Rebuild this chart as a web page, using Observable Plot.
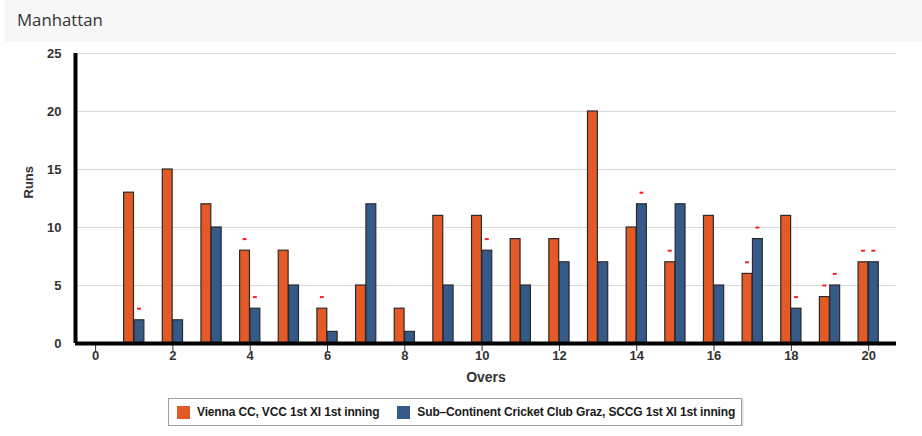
<!DOCTYPE html>
<html>
<head>
<meta charset="utf-8">
<script src="https://cdn.jsdelivr.net/npm/d3@7"></script>
<script src="https://cdn.jsdelivr.net/npm/@observablehq/plot@0.6"></script>
<style>
  html, body { margin: 0; padding: 0; background: #fff; }
  #wrap { width: 922px; }
  #header { margin-left: 5px; height: 42px; background: #f7f7f7; font-family: "Open Sans", "Noto Sans", sans-serif; font-size: 16.8px; color: #333; line-height: 40px; padding-left: 12px; box-sizing: border-box; }
  #chart svg { display: block; }
  #legendbox { margin-left: 168px; margin-top: 6px; width: 574px; height: 28px; box-sizing: border-box; border: 1px solid #a0a0a0; box-shadow: 1px 1px 2px #ccc; display: flex; align-items: center; white-space: nowrap; font-family: "Liberation Sans", Arial, sans-serif; font-weight: bold; font-size: 12px; letter-spacing: -0.15px; color: #1a1a1a; }
  .sw { display: inline-block; width: 13px; height: 13px; margin-right: 7px; flex: none; }
  .item { display: flex; align-items: center; flex: none; }
</style>
</head>
<body>
<div id="wrap">
  <div id="header">Manhattan</div>
  <div id="chart"></div>
  <div id="legendbox"></div>
</div>
<script>
// ---- data ----
const overs = [1, 2, 3, 4, 5, 6, 7, 8, 9, 10, 11, 12, 13, 14, 15, 16, 17, 18, 19, 20];
const vccRuns = [13, 15, 12, 8, 8, 3, 5, 3, 11, 11, 9, 9, 20, 10, 7, 11, 6, 11, 4, 7];
const sccgRuns = [2, 2, 10, 3, 5, 1, 12, 1, 5, 8, 5, 7, 7, 12, 12, 5, 9, 3, 5, 7];
const vccWicketOvers = [4, 6, 15, 17, 19, 20];
const sccgWicketOvers = [1, 4, 10, 14, 17, 18, 19, 20];
const xTicks = [0, 2, 4, 6, 8, 10, 12, 14, 16, 18, 20];
const yTicks = [0, 5, 10, 15, 20, 25];
const seriesNames = ["Vienna CC, VCC 1st XI 1st inning", "Sub\u2013Continent Cricket Club Graz, SCCG 1st XI 1st inning"];
const seriesColors = ["#e35a27", "#365a88"];

// ---- derived tables ----
const vccRows = overs.map((o, i) => ({over: o, runs: vccRuns[i]}));
const sccgRows = overs.map((o, i) => ({over: o, runs: sccgRuns[i]}));
const vccWk = vccWicketOvers.map(o => ({over: o, runs: vccRuns[overs.indexOf(o)]}));
const sccgWk = sccgWicketOvers.map(o => ({over: o, runs: sccgRuns[overs.indexOf(o)]}));

const bw = 0.255, gap = 0.013;

const plotSvg = Plot.plot({
  width: 922,
  height: 350,
  marginTop: 11,
  marginLeft: 75,
  marginRight: 26,
  marginBottom: 49,
  style: {fontFamily: "'Liberation Sans', Arial, sans-serif", fontSize: "13px", color: "#333", background: "transparent"},
  x: {domain: [-0.52, 20.72], label: null},
  y: {domain: [0, 25], label: null},
  marks: [
    Plot.gridY(yTicks, {stroke: "#d9d9d9", strokeOpacity: 1, strokeWidth: 1}),
    Plot.rectY(vccRows, {x1: d => d.over - gap / 2 - bw, x2: d => d.over - gap / 2, y: "runs", fill: seriesColors[0], stroke: "#2a2a2a", strokeWidth: 1.2}),
    Plot.rectY(sccgRows, {x1: d => d.over + gap / 2, x2: d => d.over + gap / 2 + bw, y: "runs", fill: seriesColors[1], stroke: "#2a2a2a", strokeWidth: 1.2}),
    Plot.ruleY(vccWk, {x1: d => d.over - gap / 2 - bw / 2 - 0.05, x2: d => d.over - gap / 2 - bw / 2 + 0.05, y: d => d.runs + 1, stroke: "#ff1a1a", strokeWidth: 2}),
    Plot.ruleY(sccgWk, {x1: d => d.over + gap / 2 + bw / 2 - 0.05, x2: d => d.over + gap / 2 + bw / 2 + 0.05, y: d => d.runs + 1, stroke: "#ff1a1a", strokeWidth: 2}),
    Plot.axisX(xTicks, {tickSize: 8, tickPadding: -1, fontWeight: "bold", fontSize: 13, stroke: "#333", fill: "#333"}),
    Plot.axisY(yTicks, {tickSize: 0, tickPadding: 14, fontWeight: "bold", fontSize: 13, fill: "#333"}),
    Plot.ruleY([0], {stroke: "#000", strokeWidth: 4}),
    Plot.ruleX([-0.52], {stroke: "#000", strokeWidth: 4, y1: 0, y2: 25}),
    Plot.text(["Overs"], {frameAnchor: "bottom", dy: 38, fontWeight: "bold", fontSize: 14, fill: "#333"}),
    Plot.text(["Runs"], {frameAnchor: "left", dx: -47, rotate: -90, fontWeight: "bold", fontSize: 13, fill: "#333"})
  ]
});
document.getElementById("chart").appendChild(plotSvg);

const legendBox = document.getElementById("legendbox");
seriesNames.forEach((name, i) => {
  const item = document.createElement("span");
  item.className = "item";
  item.style.marginLeft = i === 0 ? "8px" : "18px";
  const sw = document.createElement("span");
  sw.className = "sw";
  sw.style.background = seriesColors[i];
  item.appendChild(sw);
  const label = document.createElement("span");
  label.textContent = name;
  item.appendChild(label);
  legendBox.appendChild(item);
});
</script>
</body>
</html>
